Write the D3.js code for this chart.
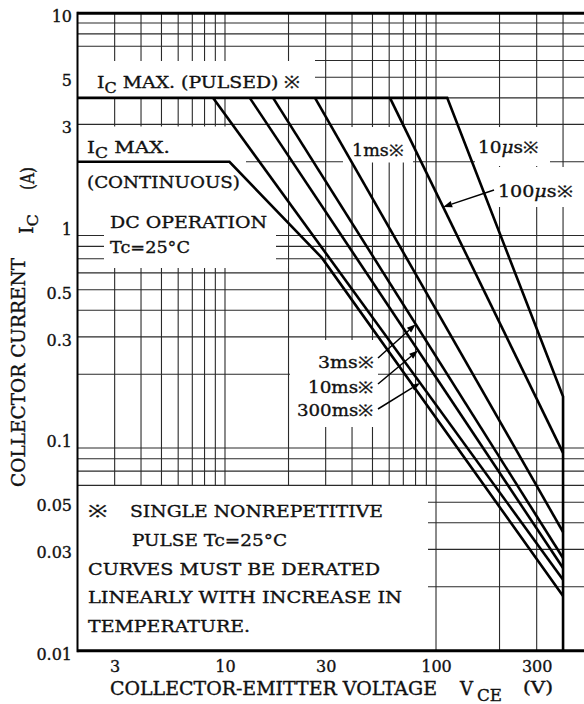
<!DOCTYPE html>
<html><head><meta charset="utf-8">
<script src="https://cdn.jsdelivr.net/npm/d3@7"></script>
<style>
html,body{margin:0;padding:0;background:#fff;}
svg{display:block;}
text{font-family:"DejaVu Serif","Liberation Serif",serif;fill:#111;stroke:#111;stroke-width:0.35px;}
</style>
</head><body>
<svg id="c" width="584" height="704"></svg>
<script>
// ---------- data ----------
const xTicks = [3, 10, 30, 100, 300];
const yTicks = [0.01, 0.03, 0.05, 0.1, 0.3, 0.5, 1, 3, 5, 10];
const xGrid = [3,4,5,6,7,8,9,10,20,30,40,50,60,70,80,90,100,200,300,400];
const yGrid = [0.02,0.03,0.04,0.05,0.06,0.07,0.08,0.09,0.2,0.3,0.4,0.5,0.6,0.7,0.8,0.9,2,3,4,5,6,7,8,9];
// SOA curves: [VCE (V), IC (A)]
const curveDC    = [[2, 2], [10.5, 2], [28.8, 0.706], [400, 0.0181]];
const curve300ms = [[8.77, 4], [400, 0.0216]];
const curve10ms  = [[13.1, 4], [400, 0.0245]];
const curve3ms   = [[16.9, 4], [400, 0.0273]];
const curve1ms   = [[26.7, 4], [400, 0.0362]];
const curve100us = [[60.5, 4], [400, 0.0853]];
const curve10us  = [[2, 4], [113, 4], [400, 0.157], [400, 0.01]];
const curves = [curveDC, curve300ms, curve10ms, curve3ms, curve1ms, curve100us, curve10us];
// arrow targets: current (A) on the curve where the arrow touches
const arrowTargets = [
  {curve: curve100us, current: 1.226},
  {curve: curve3ms, current: 0.344},
  {curve: curve10ms, current: 0.259},
  {curve: curve300ms, current: 0.182}
];

// ---------- scales ----------
const W = 584, H = 704;
const x = d3.scaleLog().domain([2, 500]).range([77.5, 583.5]);
const y = d3.scaleLog().domain([0.01, 10]).range([650.7, 13.3]);
const svg = d3.select("#c");
const defs = svg.append("defs");

function makeMask(id, rects) {
  const m = defs.append("mask").attr("id", id).attr("maskUnits", "userSpaceOnUse")
    .attr("x", 0).attr("y", 0).attr("width", W).attr("height", H);
  m.append("rect").attr("width", W).attr("height", H).attr("fill", "#fff");
  rects.forEach(r => m.append("rect").attr("x", r[0]).attr("y", r[1])
    .attr("width", r[2] - r[0]).attr("height", r[3] - r[1]).attr("fill", "#000"));
}
// blank label areas of the printed grid (layout, pixels)
makeMask("mv", [[78,61,315,97],[78,126.5,246,162],[78,162,288,268],[343,127,413,162.5],
  [475,127,550,166],[495,167,584,207],[294,340,378,427],[78,486,428,650]]);
makeMask("mh", [[78,59,315,97],[78,126.5,246,163],[104,164,276,268],[343,127,413,165],
  [475,127,550,166],[290,340,378,427],[78,486,428,650]]);

// ---------- grid ----------
const gv = svg.append("g").attr("mask", "url(#mv)");
gv.selectAll("line").data(xGrid).join("line")
  .attr("x1", d => x(d)).attr("x2", d => x(d))
  .attr("y1", y(10)).attr("y2", y(0.01))
  .attr("stroke", "#2a2a2a").attr("stroke-width", 1.1);
const gh = svg.append("g").attr("mask", "url(#mh)");
gh.selectAll("line").data(yGrid).join("line")
  .attr("y1", d => y(d)).attr("y2", d => y(d))
  .attr("x1", x(2)).attr("x2", W)
  .attr("stroke", "#2a2a2a").attr("stroke-width", 1.1);

// frame
svg.append("line").attr("x1", x(2)).attr("x2", W).attr("y1", y(10)).attr("y2", y(10))
  .attr("stroke", "#000").attr("stroke-width", 3);
svg.append("line").attr("x1", x(2)).attr("x2", W).attr("y1", y(0.01)).attr("y2", y(0.01))
  .attr("stroke", "#000").attr("stroke-width", 3);
svg.append("line").attr("x1", x(2)).attr("x2", x(2)).attr("y1", y(10) - 1.5).attr("y2", y(0.01) + 1.5)
  .attr("stroke", "#000").attr("stroke-width", 2);

// ---------- curves ----------
const line = d3.line().x(d => x(d[0])).y(d => y(d[1]));
svg.append("g").selectAll("path").data(curves).join("path")
  .attr("d", line).attr("fill", "none").attr("stroke", "#000")
  .attr("stroke-width", 2.6).attr("stroke-linejoin", "miter");

// ---------- axes ----------
const ya = svg.append("g").attr("transform", "translate(72,0)")
  .call(d3.axisLeft(y).tickValues(yTicks).tickSize(0).tickPadding(0).tickFormat(d => String(d)));
ya.select(".domain").remove();
ya.selectAll("text").attr("x", 0).attr("dy", 8.5)
  .style("font-family", '"DejaVu Serif",serif').style("font-size", "16px")
  .style("fill", "#111").style("stroke", "#111").style("stroke-width", "0.35px");
ya.selectAll(".tick").filter(d => d === 10).select("text").attr("dy", 8);

const xa = svg.append("g").attr("transform", "translate(0,672)")
  .call(d3.axisBottom(x).tickValues(xTicks).tickSize(0).tickPadding(0).tickFormat(d => String(d)));
xa.select(".domain").remove();
xa.selectAll("text").attr("y", 0).attr("dy", 0)
  .style("font-family", '"DejaVu Serif",serif').style("font-size", "16px")
  .style("fill", "#111").style("stroke", "#111").style("stroke-width", "0.35px");

// ---------- text helper ----------
function addText(px, py, w, size, parts, rot) {
  const t = svg.append("text").style("font-size", size + "px");
  if (rot) t.attr("transform", `translate(${px},${py}) rotate(-90)`);
  else t.attr("x", px).attr("y", py);
  if (w) t.attr("textLength", w).attr("lengthAdjust", "spacingAndGlyphs");
  let shifted = 0;
  parts.forEach(p => {
    const s = t.append("tspan").text(p.t);
    if (p.sub) { s.attr("dy", 5).style("font-size", (size * 0.85) + "px"); shifted = 5; }
    else if (shifted) { s.attr("dy", -shifted); shifted = 0; }
    if (p.it) s.attr("font-style", "italic");
  });
  return t;
}

// axis titles
addText(25, 487, 229, 18, [{t: "COLLECTOR CURRENT"}], true);
addText(33, 234, 20, 18, [{t: "I"}, {t: "C", sub: true}], true);
addText(34, 190, 23, 18, [{t: "(A)"}], true);
addText(110, 695, 327, 18, [{t: "COLLECTOR-EMITTER VOLTAGE"}]);
addText(460, 695, 0, 18, [{t: "V"}]);
addText(477, 701, 25, 16, [{t: "CE"}]);
addText(523, 693, 30, 16, [{t: "(V)"}]);

// in-plot labels
addText(97, 88, 203, 17, [{t: "I"}, {t: "C", sub: true}, {t: " MAX. (PULSED) ※"}]);
addText(87, 153, 83, 17, [{t: "I"}, {t: "C", sub: true}, {t: " MAX."}]);
addText(87, 188, 153, 17, [{t: "(CONTINUOUS)"}]);
addText(110, 228, 157, 17, [{t: "DC OPERATION"}]);
addText(110, 253, 80, 17, [{t: "Tc=25°C"}]);
addText(352, 156, 51, 16, [{t: "1ms※"}]);
addText(478, 153, 60, 16, [{t: "10"}, {t: "μ", it: true}, {t: "s※"}]);
addText(498, 197, 74, 16, [{t: "100"}, {t: "μ", it: true}, {t: "s※"}]);
addText(318, 368, 55, 16, [{t: "3ms※"}]);
addText(308, 393, 65, 16, [{t: "10ms※"}]);
addText(297, 416, 76, 16, [{t: "300ms※"}]);
// note
addText(88, 517, 19, 17, [{t: "※"}]);
addText(130, 517, 253, 17, [{t: "SINGLE NONREPETITIVE"}]);
addText(132, 546, 155, 17, [{t: "PULSE Tc=25°C"}]);
addText(88, 575, 292, 17, [{t: "CURVES MUST BE DERATED"}]);
addText(88, 603, 314, 17, [{t: "LINEARLY WITH INCREASE IN"}]);
addText(88, 632, 162, 17, [{t: "TEMPERATURE."}]);

// ---------- arrows ----------
function pointOn(curve, I) {
  for (let i = 0; i < curve.length - 1; i++) {
    const a = curve[i], b = curve[i + 1];
    const lo = Math.min(a[1], b[1]), hi = Math.max(a[1], b[1]);
    if (I >= lo && I <= hi && a[1] !== b[1]) {
      const f = (Math.log(I) - Math.log(a[1])) / (Math.log(b[1]) - Math.log(a[1]));
      const v = Math.exp(Math.log(a[0]) + f * (Math.log(b[0]) - Math.log(a[0])));
      return [x(v), y(I)];
    }
  }
  return null;
}
const arrowStarts = [[494, 190], [378, 358], [378, 384], [378, 409]];
arrowTargets.forEach((a, i) => {
  const tip = pointOn(a.curve, a.current);
  const s = arrowStarts[i];
  const dx = tip[0] - s[0], dy = tip[1] - s[1], L = Math.hypot(dx, dy);
  const ux = dx / L, uy = dy / L, hl = 9, hw = 3.2;
  const bx = tip[0] - ux * hl, by = tip[1] - uy * hl;
  svg.append("line").attr("x1", s[0]).attr("y1", s[1]).attr("x2", bx).attr("y2", by)
    .attr("stroke", "#000").attr("stroke-width", 1.5);
  svg.append("path").attr("d", `M${tip[0]},${tip[1]}L${bx - uy * hw},${by + ux * hw}L${bx + uy * hw},${by - ux * hw}Z`)
    .attr("fill", "#000");
});
</script>
</body></html>
